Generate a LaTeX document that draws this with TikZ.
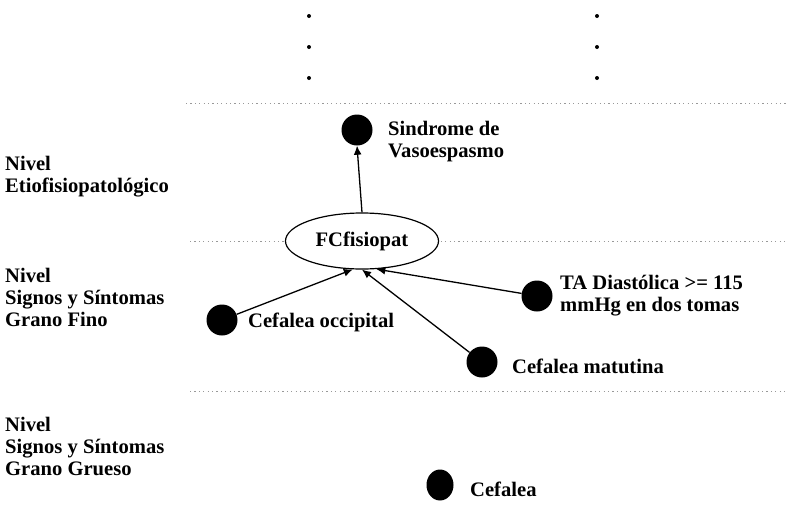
\documentclass[tikz,border=0pt]{standalone}
\usepackage{fontspec}
\setmainfont{Liberation Serif}
\usetikzlibrary{shapes.geometric,arrows.meta}
\begin{document}
\begin{tikzpicture}[x=1pt,y=-1pt,
  txt/.style={font=\fontsize{20.6}{22}\selectfont\bfseries, align=left, inner sep=0pt, anchor=west},
  ball/.style={circle, fill=black, minimum size=31pt, inner sep=0pt},
  sep/.style={gray!80, line width=0.8pt, dash pattern=on 1.2pt off 3.2pt},
  link/.style={line width=1.3pt, -{Latex[length=9pt,width=8pt]}},
  vdot/.style={circle, fill=black, minimum size=4pt, inner sep=0pt}
]
\useasboundingbox (0,0) rectangle (788,528);

% continuation marks above the top level
\foreach \y/\i in {16/a,47/b,78/c} {
  \node[vdot] (l\i) at (309,\y) {};
  \node[vdot] (r\i) at (597,\y) {};
}

% level separators
\draw[sep] (186,103) -- (786,103);
\draw[sep] (190,241) -- (786,241);
\draw[sep] (190,391) -- (786,391);

% level names
\node[txt] (lev1) at (5,177) {Nivel\\Etiofisiopatológico};
\node[txt] (lev2) at (5,297) {Nivel\\Signos y Síntomas\\Grano Fino};
\node[txt] (lev3) at (5,446) {Nivel\\Signos y Síntomas\\Grano Grueso};

% central concept
\node[ellipse, draw, fill=white, line width=1.2pt, minimum width=153pt, minimum height=56pt,
      inner sep=0pt, font=\fontsize{20.6}{22}\selectfont\bfseries] (fc) at (362,241) {FCfisiopat};

% findings
\node[ball] (sind) at (357,130) {};
\node[txt] (sindT) at (388,142) {Sindrome de\\Vasoespasmo};

\node[ball] (ta) at (537,296) {};
\node[txt] (taT) at (560,296) {TA Diastólica >= 115\\mmHg en dos tomas};

\node[ball] (occ) at (222,320) {};
\node[txt] (occT) at (248,322) {Cefalea occipital};

\node[ball] (mat) at (482,362) {};
\node[txt] (matT) at (512,366) {Cefalea matutina};

\node[ellipse, fill=black, minimum width=27pt, minimum height=31pt, inner sep=0pt] (cef) at (440,485) {};
\node[txt] (cefT) at (470,489) {Cefalea};

% connectors
\draw[link] (fc.north) -- (sind.south);
\draw[link] (occ) -- (fc.252);
\draw[link] (mat) -- (fc.270);
\draw[link] (ta) -- (fc.297);
\end{tikzpicture}
\end{document}
